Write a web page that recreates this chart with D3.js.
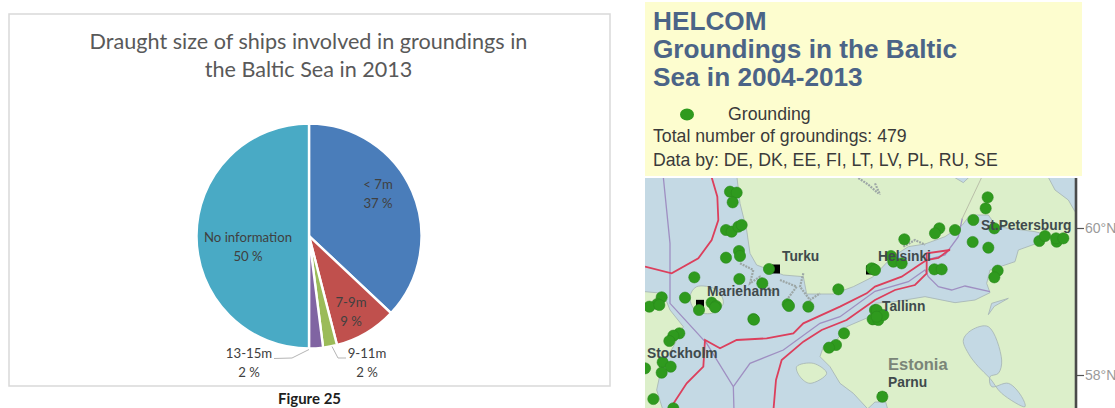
<!DOCTYPE html>
<html>
<head>
<meta charset="utf-8">
<script src="https://cdn.jsdelivr.net/npm/d3@7"></script>
<style>
  html, body { margin: 0; padding: 0; background: #fff; }
  svg { display: block; }
</style>
</head>
<body>
<svg id="fig" width="1115" height="408"></svg>
<script>
// Draught classes of grounded ships, 2013 (percent of cases)
const draughtClasses = ["< 7m", "7-9m", "9-11m", "13-15m", "No information"];
const draughtShares = [37, 9, 2, 2, 50];
const draughtColors = ["#4a7dba", "#c0504d", "#9bbb59", "#8064a2", "#49aac5"];

// Grounding sites on the map grid: [easting, southing] in grid units
const groundingSites = [
  [255,41],[275,44],[263,73],[243,156],[260,161],[280,146],[290,141],[282,219],[285,234],[243,239],
  [372,273],[283,303],[148,298],[352,316],[120,359],[50,358],[37,378],[13,386],[43,381],[162,396],
  [200,374],[213,384],[210,388],[428,379],[432,384],[490,386],[580,334],[325,423],[327,425],[597,466],
  [573,501],[552,509],[103,466],[85,473],[73,489],[53,553],[77,566],[50,584],[25,663],[0,571],
  [685,273],[680,271],[690,396],[683,424],[700,426],[85,691],
  [1028,58],[1022,91],[985,126],[1048,151],[930,156],[883,151],[870,166],[778,184],[983,192],[1030,209],
  [1183,189],[1200,174],[1235,191],[1233,181],[1255,181],[1058,278],[1048,298],[868,274],[890,274],
  [738,234],[745,251],[770,256],[690,276],[695,396],[715,411],[695,416],[712,656]
];

// Sea and lake outlines on the same grid
const balticSea = [
  [-10,-10],[275,-10],[285,76],[305,156],[315,226],[335,261],[415,291],[475,296],[485,348],[565,348],
  [625,326],[685,296],[740,238],[790,206],[840,198],[900,176],[952,141],[975,111],[1030,111],[1055,146],
  [1170,161],[1210,171],[1190,191],[1120,216],[1110,251],[1035,276],[1025,316],[1035,344],[990,366],
  [930,374],[840,356],[750,371],[690,376],[675,416],[605,446],[575,486],[535,506],[525,536],[555,566],
  [585,616],[625,646],[675,700],[-10,700],[-10,700],[55,700],[35,636],[50,566],[85,506],[115,446],
  [75,396],[55,346],[0,341],[-10,341]
];
const gulfBay = [[660,700],[690,672],[722,672],[730,700]];
const ladoga = [[1210,-10],[1210,-2],[1230,36],[1270,66],[1290,101],[1310,101],[1310,-10]];
const peipus = [
  [955,486],[980,456],[1030,446],[1070,546],[1060,586],[1035,596],[1040,626],[1090,616],[1130,656],
  [1140,686],[1070,646],[1035,601],[1000,566],[970,526]
];
const saimaaEdge = [[915,-10],[980,-10],[955,14]];
const narvaInlet = [[1030,410],[1040,376],[1090,361],[1048,385]];

// Islands and skerries
const hiiumaa = [[455,566],[505,556],[545,586],[495,616],[465,596]];
const aland = [[155,326],[215,336],[235,376],[200,406],[150,396],[135,356]];
const skerries = [
  [[285,256],[325,276],[315,316],[345,296],[385,346]],
  [[405,306],[455,326],[425,366]],
  [[475,286],[465,326],[495,366],[525,346]],
  [[640,0],[670,20],[700,46]],
  [[690,16],[705,50]],
  [[775,206],[810,186],[840,200]]
];

// Shipping routes and maritime borders
const routeNorth = [[200,-2],[217,56],[220,126],[200,186],[160,241],[80,286],[0,266]];
const routeSouth = [[385,700],[393,606],[410,546],[475,491],[530,456],[605,426],[690,366],[750,336],[810,321],[845,286],[845,226],[915,216]];
const routeMid = [[70,700],[125,616],[175,566],[180,486],[225,511],[275,486],[365,481],[445,466],[475,436],[585,386],[665,346],[690,326],[770,296],[830,256],[845,246],[880,240],[915,214]];
const borderWest = [[55,-2],[75,196],[75,376],[185,496],[265,626],[267,700]];
const borderGulf = [[265,626],[315,556],[415,516],[525,436],[585,416],[690,340],[790,311],[840,276],[850,296],[880,326],[920,336],[960,324],[1035,341]];
const borderEast = [[845,246],[900,231],[940,176],[952,121]];
const landBorder = [[952,121],[1010,-2]];

// Towns: name, position, marker flag, label placement
const townNames = ["Turku", "Mariehamn", "Stockholm", "Helsinki", "St.Petersburg", "Tallinn", "Parnu"];
const townMarkers = [[393,273],[165,379],[null,null],[675,276],[null,null],[690,426],[712,656]];
const townLabels = [[782,261],[707,296],[647,358],[878,261],[981,230],[882,311],[888,387]];

const latTicks = [60, 58];

const legendTitle = ["HELCOM", "Groundings in the Baltic", "Sea in 2004-2013"];
const titleLines = ["Draught size of ships involved in groundings in", "the Baltic Sea in 2013"];

const svg = d3.select("#fig");

/* ---------- left panel: pie chart ---------- */
svg.append("rect")
  .attr("x", 9).attr("y", 14).attr("width", 601).attr("height", 372)
  .attr("fill", "#fff").attr("stroke", "#d9d9d9").attr("stroke-width", 1.5);

svg.append("g").selectAll("text").data(titleLines).join("text")
  .attr("x", 308.5).attr("y", (d, i) => 49 + i * 27.5)
  .attr("text-anchor", "middle")
  .attr("font-family", "Lato, sans-serif").attr("font-size", 21.6)
  .attr("fill", "#595959").text(d => d);

const pieCx = 309, pieCy = 236, pieR = 112.5;
const pieLayout = d3.pie().sort(null).value(d => d);
const sliceArc = d3.arc().innerRadius(0).outerRadius(pieR);
const pieG = svg.append("g").attr("transform", `translate(${pieCx},${pieCy})`);
pieG.selectAll("path").data(pieLayout(draughtShares)).join("path")
  .attr("d", sliceArc)
  .attr("fill", (d, i) => draughtColors[i])
  .attr("stroke", "#fff").attr("stroke-width", 2.4).attr("stroke-linejoin", "miter");

// Leader lines for the two thin slices
const leaderPath = d3.line();
const leaders = [
  [[274,358.5],[292,358],[309,349.5]],
  [[332,346.5],[338,358],[346,358]]
];
svg.append("g").selectAll("path").data(leaders).join("path")
  .attr("d", d => leaderPath(d)).attr("fill", "none")
  .attr("stroke", "#b5b5b5").attr("stroke-width", 1);

const sliceLabelAnchors = [[378,189],[351,307],[367,358],[249,358],[248,242]];
const sliceLabels = svg.append("g")
  .attr("font-family", "Lato, sans-serif").attr("font-size", 13.2)
  .attr("text-anchor", "middle").attr("fill", "#404040");
draughtClasses.forEach((name, i) => {
  const [x, y] = sliceLabelAnchors[i];
  sliceLabels.append("text").attr("x", x).attr("y", y).text(name);
  sliceLabels.append("text").attr("x", x).attr("y", y + 18.7).text(`${draughtShares[i]} %`);
});

svg.append("text")
  .attr("x", 309.5).attr("y", 404).attr("text-anchor", "middle")
  .attr("font-family", "Lato, sans-serif").attr("font-weight", 700).attr("font-size", 15)
  .attr("fill", "#1e1e1e").text("Figure 25");

/* ---------- right panel: map ---------- */
const gridX = d3.scaleLinear().domain([0, 1293]).range([645, 1076]);
const gridY = d3.scaleLinear().domain([0, 690]).range([178, 408]);
const latY = d3.scaleLinear().domain([60, 58]).range([228, 375]);

const ringPath = d3.line().x(d => gridX(d[0])).y(d => gridY(d[1])).curve(d3.curveCatmullRomClosed.alpha(0.5));
const sharpRing = d3.line().x(d => gridX(d[0])).y(d => gridY(d[1])).curve(d3.curveLinearClosed);
const openPath = d3.line().x(d => gridX(d[0])).y(d => gridY(d[1]));

svg.append("clipPath").attr("id", "mapClip").append("rect")
  .attr("x", 645).attr("y", 178).attr("width", 431).attr("height", 230);

const mapG = svg.append("g").attr("clip-path", "url(#mapClip)");
mapG.append("rect").attr("x", 645).attr("y", 178).attr("width", 431).attr("height", 230).attr("fill", "#dcefca");

const seaFill = "#c4d9e4", coast = "#a5b3b3";
[balticSea, ladoga, gulfBay, saimaaEdge, narvaInlet].forEach(ring => {
  mapG.append("path").attr("d", sharpRing(ring)).attr("fill", seaFill).attr("stroke", coast).attr("stroke-width", 0.8);
});
mapG.append("path").attr("d", ringPath(peipus)).attr("fill", seaFill).attr("stroke", coast).attr("stroke-width", 0.8);
[hiiumaa, aland].forEach(ring => {
  mapG.append("path").attr("d", ringPath(ring)).attr("fill", "#dcefca").attr("stroke", coast).attr("stroke-width", 0.8);
});
mapG.selectAll("path.skerry").data(skerries).join("path").attr("class", "skerry")
  .attr("d", d => openPath(d)).attr("fill", "none")
  .attr("stroke", "#9da7a6").attr("stroke-width", 2.2).attr("stroke-dasharray", "2 1");

[borderWest, borderGulf, borderEast].forEach(line => {
  mapG.append("path").attr("d", openPath(line)).attr("fill", "none")
    .attr("stroke", "#9f8fc2").attr("stroke-width", 1.3);
});
mapG.append("path").attr("d", openPath(landBorder)).attr("fill", "none")
  .attr("stroke", "#b5b9a5").attr("stroke-width", 0.9);
[routeNorth, routeSouth, routeMid].forEach(line => {
  mapG.append("path").attr("d", openPath(line)).attr("fill", "none")
    .attr("stroke", "#dc3f5c").attr("stroke-width", 1.8);
});

mapG.selectAll("rect.town").data(townMarkers.filter(d => d[0] !== null)).join("rect").attr("class", "town")
  .attr("x", d => gridX(d[0]) - 4).attr("y", d => gridY(d[1]) - 4.5)
  .attr("width", 8).attr("height", 9).attr("fill", "#000");

mapG.selectAll("circle").data(groundingSites).join("circle")
  .attr("cx", d => gridX(d[0])).attr("cy", d => gridY(d[1])).attr("r", 5.6)
  .attr("fill", "#2f9a1e").attr("stroke", "#2a8a1c").attr("stroke-width", 0.6);

const townText = mapG.append("g")
  .attr("font-family", "'Liberation Sans', Arial, sans-serif").attr("font-weight", 700)
  .attr("font-size", 13.8).attr("fill", "#3f4a4c");
townNames.forEach((name, i) => {
  townText.append("text").attr("x", townLabels[i][0]).attr("y", townLabels[i][1]).text(name);
});
mapG.append("text").attr("x", 888).attr("y", 370)
  .attr("font-family", "'Liberation Sans', Arial, sans-serif").attr("font-weight", 700)
  .attr("font-size", 16.5).attr("fill", "#7a8578").text("Estonia");

// Latitude axis along the right edge of the map
const latAxis = d3.axisRight(latY).tickValues(latTicks).tickFormat(d => `${d}°N`).tickSize(8).tickPadding(1);
const axisG = svg.append("g").attr("transform", "translate(1076,0)").call(latAxis);
axisG.select(".domain").remove();
axisG.selectAll("line").attr("stroke", "#555").attr("stroke-width", 1.2);
axisG.selectAll("text")
  .attr("font-family", "'Liberation Sans', Arial, sans-serif").attr("font-size", 14)
  .attr("fill", "#9a9a9a");
svg.append("line")
  .attr("x1", 1076).attr("x2", 1076).attr("y1", gridY(0)).attr("y2", gridY(690))
  .attr("stroke", "#4a4a4a").attr("stroke-width", 2.6);

/* ---------- map legend box ---------- */
svg.append("rect")
  .attr("x", 645).attr("y", 2).attr("width", 437).attr("height", 174)
  .attr("fill", "#fdfdcf");
const legendG = svg.append("g").attr("font-family", "'Liberation Sans', Arial, sans-serif");
legendG.selectAll("text.head").data(legendTitle).join("text").attr("class", "head")
  .attr("x", 653).attr("y", (d, i) => 30 + i * 28.2)
  .attr("font-weight", 700).attr("font-size", 26.2).attr("fill", "#4b6487").text(d => d);
legendG.append("ellipse").attr("cx", 687).attr("cy", 114.5).attr("rx", 7).attr("ry", 6).attr("fill", "#2f9a1e");
legendG.append("text").attr("x", 728).attr("y", 120).attr("font-size", 17.7).attr("fill", "#3a3a3a").text("Grounding");
legendG.append("text").attr("x", 653).attr("y", 142).attr("font-size", 17.7).attr("fill", "#3a3a3a").text("Total number of groundings: 479");
legendG.append("text").attr("x", 653).attr("y", 166).attr("font-size", 17.7).attr("fill", "#3a3a3a").text("Data by: DE, DK, EE, FI, LT, LV, PL, RU, SE");
</script>
</body>
</html>
